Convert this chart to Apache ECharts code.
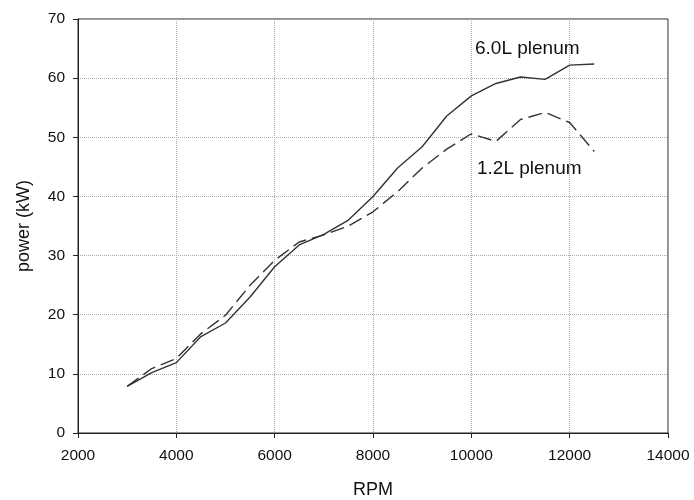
<!DOCTYPE html>
<html>
<head>
<meta charset="utf-8">
<script src="https://cdn.jsdelivr.net/npm/echarts@6/dist/echarts.min.js"></script>
<style>
  html, body { margin: 0; padding: 0; background: #fff; }
  #main { width: 694px; height: 500px; }
</style>
</head>
<body>
<div id="main"></div>
<script>
  // engine speed (RPM)
  var rpm = [3000, 3500, 4000, 4500, 5000, 5500, 6000, 6500, 7000, 7500,
             8000, 8500, 9000, 9500, 10000, 10500, 11000, 11500, 12000, 12500];
  // power (kW), 6.0L plenum
  var power6L = [7.9, 10.2, 11.9, 16.3, 18.6, 23.0, 28.1, 31.8, 33.6, 36.0,
                 40.0, 44.8, 48.4, 53.6, 57.0, 59.1, 60.2, 59.8, 62.2, 62.4];
  // power (kW), 1.2L plenum
  var power12L = [7.9, 10.9, 12.6, 16.8, 19.9, 25.0, 29.2, 32.3, 33.5, 35.0,
                  37.4, 40.8, 44.8, 48.0, 50.6, 49.3, 53.0, 54.2, 52.5, 47.6];

  var xTicks = { min: 2000, max: 14000, step: 2000 };
  var yTicks = { min: 0, max: 70, step: 10 };

  function pairs(xs, ys) {
    return xs.map(function (x, i) { return [x, ys[i]]; });
  }

  var chart = echarts.init(document.getElementById('main'));

  var font = 'Liberation Sans, Arial, sans-serif';
  var ink = '#111';

  var option = {
    animation: false,
    backgroundColor: '#fff',
    grid: {
      left: 78, right: 26, top: 19, bottom: 67,
      outerBoundsMode: 'none',
      show: true,
      borderColor: '#222',
      borderWidth: 1
    },
    xAxis: {
      type: 'value',
      min: xTicks.min, max: xTicks.max, interval: xTicks.step,
      name: 'RPM',
      nameLocation: 'middle',
      nameGap: 48,
      nameTextStyle: { fontFamily: font, fontSize: 18, color: ink },
      axisLine: { show: true, lineStyle: { color: '#222', width: 1 } },
      axisTick: { show: true, inside: false, length: 5, lineStyle: { color: '#222' } },
      axisLabel: {
        fontFamily: font, fontSize: 15.5, color: ink, margin: 15,
        formatter: function (v) { return String(v); }
      },
      splitLine: { show: true, lineStyle: { color: '#aaa', type: 'dotted', width: 1 } }
    },
    yAxis: {
      type: 'value',
      min: yTicks.min, max: yTicks.max, interval: yTicks.step,
      name: 'power (kW)',
      nameLocation: 'middle',
      nameGap: 45,
      nameTextStyle: { fontFamily: font, fontSize: 18, color: ink },
      axisLine: { show: true, lineStyle: { color: '#222', width: 1 } },
      axisTick: { show: true, inside: false, length: 5, lineStyle: { color: '#222' } },
      axisLabel: { fontFamily: font, fontSize: 15.5, color: ink, margin: 13 },
      splitLine: { show: true, lineStyle: { color: '#aaa', type: 'dotted', width: 1 } }
    },
    series: [
      {
        name: '6.0L plenum',
        type: 'line',
        data: pairs(rpm, power6L),
        showSymbol: false,
        lineStyle: { color: '#333', width: 1.4, type: 'solid' }
      },
      {
        name: '1.2L plenum',
        type: 'line',
        data: pairs(rpm, power12L),
        showSymbol: false,
        lineStyle: { color: '#333', width: 1.4, type: [14, 6] }
      }
    ],
    graphic: [
      {
        type: 'text', left: 475, top: 39,
        style: { text: '6.0L plenum', fontFamily: font, fontSize: 19, fill: ink }
      },
      {
        type: 'text', left: 477, top: 159,
        style: { text: '1.2L plenum', fontFamily: font, fontSize: 19, fill: ink }
      }
    ]
  };

  chart.setOption(option);
</script>
</body>
</html>
